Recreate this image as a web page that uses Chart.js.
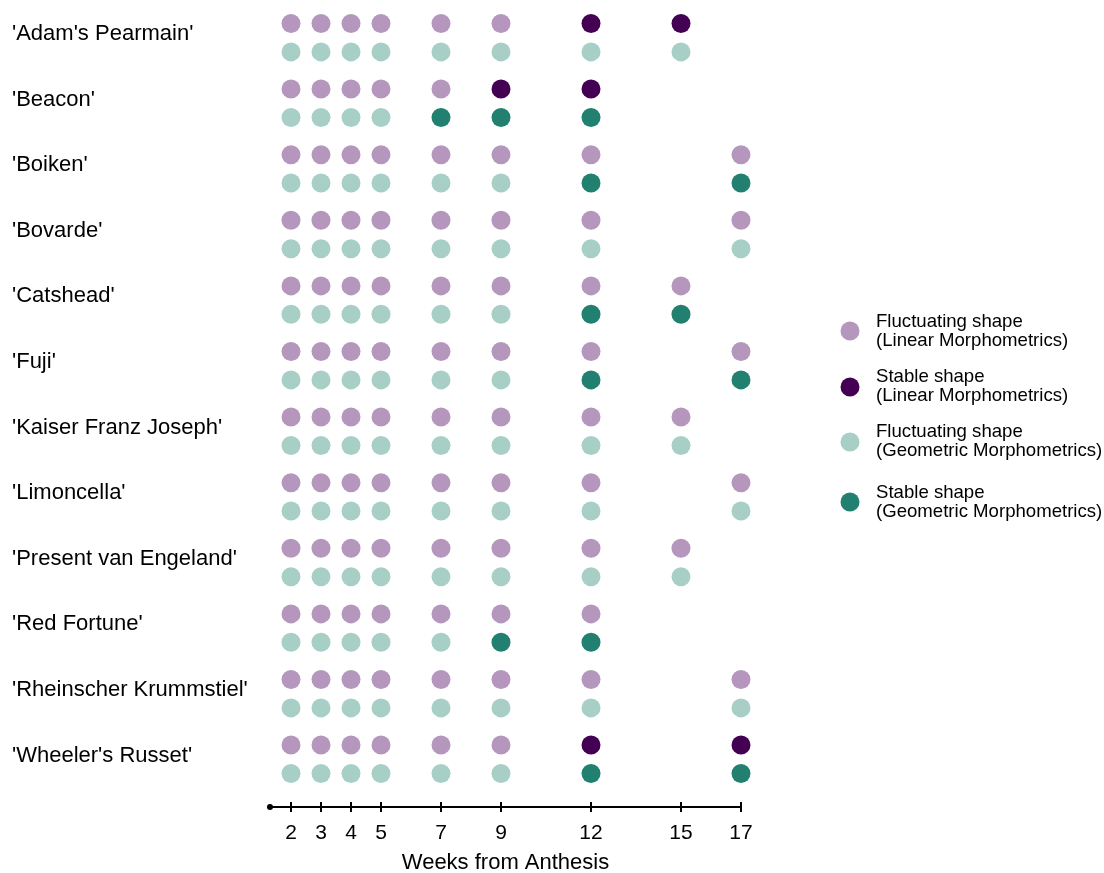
<!DOCTYPE html>
<html>
<head>
<meta charset="utf-8">
<script src="https://cdn.jsdelivr.net/npm/chart.js@4.4.0/dist/chart.umd.min.js"></script>
<style>
  html, body { margin: 0; padding: 0; background: #fff; }
  #wrap { width: 1104px; height: 873px; }
</style>
</head>
<body>
<div id="wrap"><canvas id="dot-chart"></canvas></div>
<script>
var cultivars = [
  "'Adam's Pearmain'", "'Beacon'", "'Boiken'", "'Bovarde'", "'Catshead'", "'Fuji'",
  "'Kaiser Franz Joseph'", "'Limoncella'", "'Present van Engeland'", "'Red Fortune'",
  "'Rheinscher Krummstiel'", "'Wheeler's Russet'"
];
// weeks each cultivar was sampled
var weeksSampled = [
  [2, 3, 4, 5, 7, 9, 12, 15],
  [2, 3, 4, 5, 7, 9, 12],
  [2, 3, 4, 5, 7, 9, 12, 17],
  [2, 3, 4, 5, 7, 9, 12, 17],
  [2, 3, 4, 5, 7, 9, 12, 15],
  [2, 3, 4, 5, 7, 9, 12, 17],
  [2, 3, 4, 5, 7, 9, 12, 15],
  [2, 3, 4, 5, 7, 9, 12, 17],
  [2, 3, 4, 5, 7, 9, 12, 15],
  [2, 3, 4, 5, 7, 9, 12],
  [2, 3, 4, 5, 7, 9, 12, 17],
  [2, 3, 4, 5, 7, 9, 12, 17]
];
// weeks where the shape was stable
var linearStable = [[12, 15], [9, 12], [], [], [], [], [], [], [], [], [], [12, 17]];
var geometricStable = [[], [7, 9, 12], [12, 17], [], [12, 15], [12, 17], [], [], [], [9, 12], [], [12, 17]];
var weekTicks = [2, 3, 4, 5, 7, 9, 12, 15, 17];

var seriesNames = [
  ['Fluctuating shape', '(Linear Morphometrics)'],
  ['Stable shape', '(Linear Morphometrics)'],
  ['Fluctuating shape', '(Geometric Morphometrics)'],
  ['Stable shape', '(Geometric Morphometrics)']
];
var seriesColors = ['#b597bd', '#440154', '#a7cfc6', '#21806f'];

var FONT = "'Liberation Sans', Arial, sans-serif";
var GEO_OFFSET = 0.433;

var fluctLin = [], stableLin = [], fluctGeo = [], stableGeo = [];
weeksSampled.forEach(function (weeks, i) {
  weeks.forEach(function (w) {
    if (linearStable[i].indexOf(w) >= 0) stableLin.push({x: w, y: i});
    else fluctLin.push({x: w, y: i});
    if (geometricStable[i].indexOf(w) >= 0) stableGeo.push({x: w, y: i + GEO_OFFSET});
    else fluctGeo.push({x: w, y: i + GEO_OFFSET});
  });
});

function makeSet(idx, data) {
  return {
    label: seriesNames[idx].join(' '),
    data: data,
    backgroundColor: seriesColors[idx],
    borderWidth: 0,
    pointRadius: 9.5,
    pointHoverRadius: 9.5,
    showLine: false,
    clip: false
  };
}

var axisDecor = {
  id: 'axisDecor',
  afterDraw: function (chart) {
    var ctx = chart.ctx, xs = chart.scales.x;
    var y = chart.chartArea.bottom;
    ctx.save();
    ctx.strokeStyle = '#000';
    ctx.fillStyle = '#000';
    ctx.lineWidth = 2;
    weekTicks.forEach(function (w) {
      var px = xs.getPixelForValue(w);
      ctx.beginPath();
      ctx.moveTo(px, y - 5);
      ctx.lineTo(px, y + 5);
      ctx.stroke();
    });
    ctx.beginPath();
    ctx.arc(chart.chartArea.left, y, 3, 0, Math.PI * 2);
    ctx.fill();
    ctx.restore();
  }
};

var sideLegend = {
  id: 'sideLegend',
  afterDraw: function (chart) {
    var ctx = chart.ctx;
    var dotY = [331, 387, 442, 502];
    var textY = [327, 382, 437, 498];
    ctx.save();
    ctx.font = '18.6px ' + FONT;
    ctx.textBaseline = 'alphabetic';
    ctx.textAlign = 'left';
    seriesNames.forEach(function (lines, i) {
      ctx.fillStyle = seriesColors[i];
      ctx.beginPath();
      ctx.arc(850, dotY[i], 9.5, 0, Math.PI * 2);
      ctx.fill();
      ctx.fillStyle = '#000';
      lines.forEach(function (t, j) {
        ctx.fillText(t, 876, textY[i] + j * 18.5);
      });
    });
    ctx.restore();
  }
};

new Chart(document.getElementById('dot-chart'), {
  type: 'scatter',
  data: {
    datasets: [
      makeSet(0, fluctLin),
      makeSet(1, stableLin),
      makeSet(2, fluctGeo),
      makeSet(3, stableGeo)
    ]
  },
  options: {
    responsive: true,
    maintainAspectRatio: false,
    animation: false,
    layout: { autoPadding: false, padding: { left: 12, right: 363, top: 0, bottom: 0 } },
    plugins: { legend: { display: false }, tooltip: { enabled: false } },
    scales: {
      x: {
        type: 'linear',
        min: 1.3,
        max: 17,
        grid: { display: false, drawTicks: false },
        border: { display: true, color: '#000', width: 2 },
        afterBuildTicks: function (scale) {
          scale.ticks = weekTicks.map(function (w) { return {value: w}; });
        },
        afterFit: function (scale) { scale.height = 66; },
        ticks: {
          autoSkip: false,
          maxRotation: 0,
          padding: 14,
          color: '#000',
          font: { family: FONT, size: 21 },
          callback: function (v) { return String(v); }
        },
        title: {
          display: true,
          text: 'Weeks from Anthesis',
          color: '#000',
          font: { family: FONT, size: 22 },
          padding: { top: 0, bottom: -3 }
        }
      },
      y: {
        type: 'linear',
        reverse: true,
        min: -0.358,
        max: 11.944,
        grid: { display: false, drawTicks: false },
        border: { display: false },
        afterBuildTicks: function (scale) {
          scale.ticks = cultivars.map(function (c, i) { return {value: i + 0.16}; });
        },
        afterFit: function (scale) {
          scale.width = 258;
          scale.paddingTop = 0;
          scale.paddingBottom = 0;
        },
        ticks: {
          autoSkip: false,
          crossAlign: 'far',
          color: '#000',
          font: { family: FONT, size: 22 },
          callback: function (v, idx) { return cultivars[idx]; }
        }
      }
    }
  },
  plugins: [axisDecor, sideLegend]
});
</script>
</body>
</html>
